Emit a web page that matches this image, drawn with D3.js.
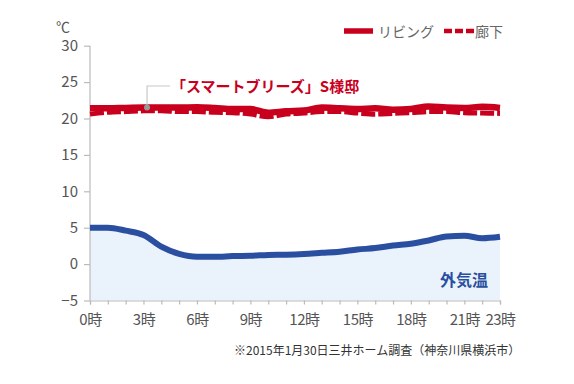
<!DOCTYPE html>
<html><head><meta charset="utf-8">
<script src="https://cdn.jsdelivr.net/npm/d3@7"></script>
<style>body{margin:0;background:#fff;font-family:"Noto Sans CJK JP","Noto Sans",sans-serif;}</style>
</head><body><svg id="c" width="574" height="384"></svg>
<script>
const hours = d3.range(0, 24);
const living = [21.4,21.4,21.45,21.5,21.5,21.5,21.55,21.45,21.3,21.3,20.8,21.0,21.1,21.5,21.4,21.3,21.4,21.2,21.3,21.65,21.5,21.45,21.6,21.45];
const corridor = [20.6,20.85,20.95,21.05,21.05,20.95,20.95,20.85,20.8,20.6,20.25,20.6,20.75,20.95,20.95,20.75,20.6,20.7,20.8,20.95,20.95,20.8,20.75,20.7];
const outside = [5.0,5.0,4.6,4.0,2.4,1.4,1.0,1.0,1.1,1.15,1.25,1.3,1.4,1.55,1.7,2.0,2.2,2.55,2.8,3.25,3.8,3.9,3.55,3.75];
const yTicks = [30,25,20,15,10,5,0,-5];
const xLabelHours = [0,3,6,9,12,15,18,21,23];
const seriesNames = ["リビング","廊下"];
const outsideName = "外気温";
const annotationText = "「スマートブリーズ」S様邸";
const annotationHour = 3.2;
const unitLabel = "℃";
const footnote = "※2015年1月30日三井ホーム調査（神奈川県横浜市）";

const RED = "#c8001e", BLUE = "#2a4fa0", GRAY = "#bbbbbb", TXT = "#555";
const svg = d3.select("#c");
const x = d3.scaleLinear().domain([0,23]).range([90,500]);
const y = d3.scaleLinear().domain([-5,30]).range([300.5,45.7]);

// area
svg.append("path").datum(outside)
  .attr("d", d3.area().x((d,i)=>x(hours[i])).y0(y(-5)).y1(d=>y(d)).curve(d3.curveMonotoneX))
  .attr("fill","#eaf3fb");

// axes
const ya = svg.append("g").attr("transform",`translate(${x(0)},0)`)
  .call(d3.axisLeft(y).tickValues(yTicks).tickSize(6).tickPadding(6).tickFormat(d=>d<0?"−"+Math.abs(d):d));
const xa = svg.append("g").attr("transform",`translate(0,${y(-5)})`)
  .call(d3.axisBottom(x).tickValues(hours).tickSize(4).tickPadding(8)
    .tickFormat(d=>xLabelHours.includes(d)?d+"時":""));
[ya,xa].forEach(g=>{
  g.select(".domain").attr("stroke",GRAY).attr("stroke-width",1.2);
  g.selectAll(".tick line").attr("stroke",GRAY).attr("stroke-width",1.2);
  g.selectAll("text").attr("fill",TXT).attr("font-size",15)
    .attr("font-family",'"Noto Sans CJK JP",sans-serif');
});
ya.select(".domain").attr("d",`M0,${y(30)}V${y(-5)}`);
xa.selectAll(".tick text").attr("dy","0.85em").attr("letter-spacing","-0.5");

const line = d3.line().x((d,i)=>x(hours[i])).y(d=>y(d)).curve(d3.curveMonotoneX);
svg.append("path").datum(outside).attr("d",line).attr("fill","none").attr("stroke",BLUE).attr("stroke-width",6);
svg.append("path").datum(living).attr("d",line).attr("fill","none").attr("stroke",RED).attr("stroke-width",6.5);
svg.append("path").datum(corridor).attr("d",line).attr("fill","none").attr("stroke",RED).attr("stroke-width",5).attr("stroke-dasharray","14,3");

// annotation
const interp = d3.scaleLinear().domain(hours).range(living);
const ax = x(annotationHour), ay = y(interp(annotationHour));
svg.append("path").attr("d",`M${ax},${ay}V${86}H${170}`).attr("fill","none").attr("stroke","#c8c8c8").attr("stroke-width",1.2);
svg.append("circle").attr("cx",ax).attr("cy",ay).attr("r",3).attr("fill","#999");
svg.append("text").attr("x",171).attr("y",92).attr("fill",RED).attr("font-size",15).attr("font-weight","bold")
  .text(annotationText);

// outside label
svg.append("text").attr("x",488).attr("y",286).attr("text-anchor","end").attr("fill",BLUE)
  .attr("font-size",16).attr("font-weight","bold").text(outsideName);

// unit
svg.append("text").attr("x",56).attr("y",32).attr("fill",TXT).attr("font-size",14).text(unitLabel);

// legend
const lg = svg.append("g");
lg.append("line").attr("x1",344).attr("x2",373).attr("y1",31).attr("y2",31).attr("stroke",RED).attr("stroke-width",5.5);
lg.append("text").attr("x",378).attr("y",36.5).attr("fill","#666").attr("font-size",14).text(seriesNames[0]);
lg.append("line").attr("x1",444).attr("x2",474).attr("y1",31).attr("y2",31).attr("stroke",RED).attr("stroke-width",4.5).attr("stroke-dasharray","8,3");
lg.append("text").attr("x",475).attr("y",36.5).attr("fill","#666").attr("font-size",14).text(seriesNames[1]);

// footnote
svg.append("text").attr("x",234).attr("y",355).attr("fill","#333").attr("font-size",12).text(footnote);
</script></body></html>
